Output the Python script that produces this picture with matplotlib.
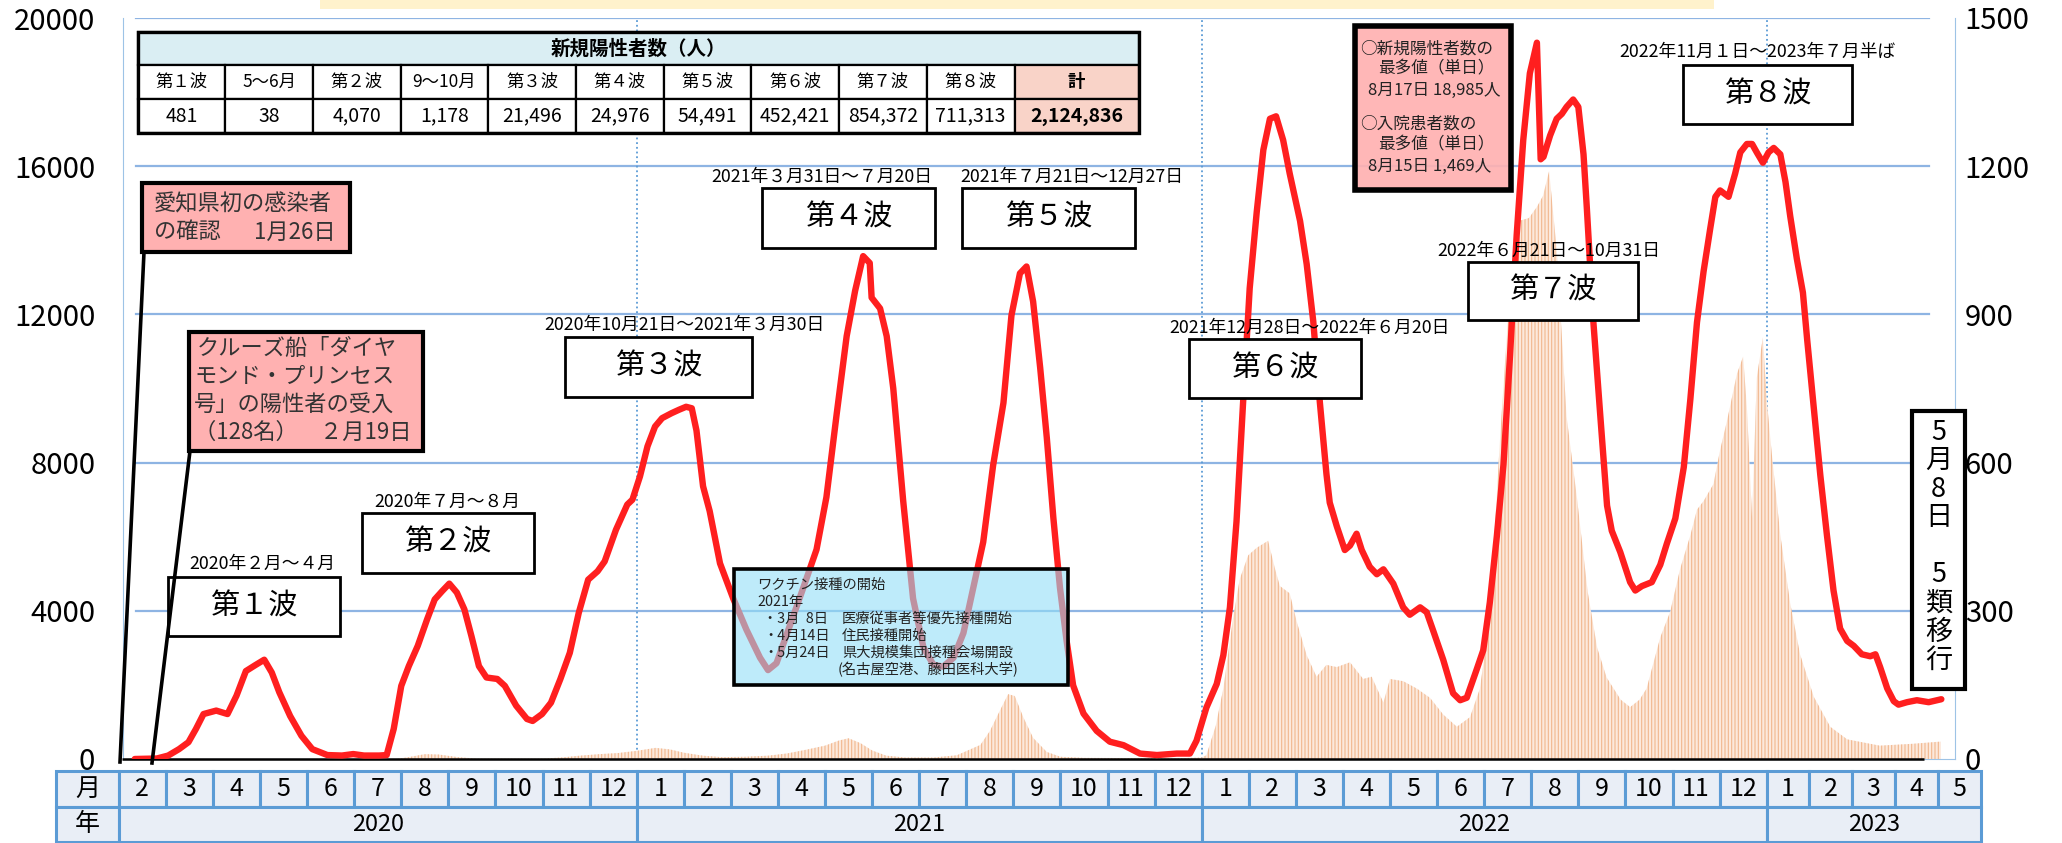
import matplotlib
matplotlib.use('Agg')
import matplotlib.pyplot as plt
from matplotlib.patches import Rectangle

plt.rcParams['font.family'] = ['Noto Sans CJK JP', 'DejaVu Sans']
plt.rcParams['hatch.linewidth'] = 0.8

# 横軸は月単位（2020年1月1日 = 0）
red_m = [1.34, 1.81, 2.05, 2.28, 2.48, 2.64, 2.80, 3.07, 3.31, 3.50, 3.70, 3.90, 4.09, 4.25, 4.41,
         4.64, 4.88, 5.11, 5.43, 5.74, 5.98, 6.21, 6.53, 6.69, 6.84, 7.00, 7.16, 7.35, 7.55, 7.71,
         7.87, 8.02, 8.18, 8.34, 8.49, 8.65, 8.81, 9.04, 9.20, 9.44, 9.67, 9.79, 9.99, 10.18, 10.38,
         10.58, 10.77, 10.97, 11.17, 11.32, 11.56, 11.80, 11.91, 12.07, 12.23, 12.39, 12.54, 12.74,
         12.90, 13.05, 13.17, 13.27, 13.41, 13.55, 13.77, 14.05, 14.33, 14.62, 14.79, 14.97, 15.25,
         15.54, 15.82, 16.03, 16.25, 16.46, 16.64, 16.81, 16.95, 16.99, 17.17, 17.31, 17.45, 17.66,
         17.87, 18.09, 18.30, 18.51, 18.73, 18.94, 19.15, 19.36, 19.57, 19.79, 19.96, 20.14, 20.28,
         20.42, 20.57, 20.71, 20.85, 20.99, 21.13, 21.27, 21.49, 21.77, 22.05, 22.34, 22.69, 23.05,
         23.47, 23.75, 23.89, 24.10, 24.32, 24.46, 24.60, 24.74, 24.88, 25.02, 25.17, 25.31, 25.45,
         25.58, 25.73, 25.87, 26.09, 26.23, 26.37, 26.51, 26.65, 26.72, 26.87, 27.04, 27.15, 27.29,
         27.40, 27.57, 27.72, 27.86, 28.07, 28.28, 28.42, 28.64, 28.78, 28.92, 29.13, 29.34, 29.49,
         29.63, 29.84, 29.98, 30.12, 30.27, 30.41, 30.55, 30.69, 30.83, 30.97, 31.12, 31.17, 31.20,
         31.26, 31.40, 31.54, 31.65, 31.75, 31.89, 32.00, 32.11, 32.18, 32.32, 32.46, 32.61, 32.71,
         32.89, 33.10, 33.21, 33.35, 33.56, 33.74, 33.88, 34.06, 34.24, 34.38, 34.52, 34.66, 34.80,
         34.91, 35.01, 35.19, 35.33, 35.44, 35.58, 35.69, 35.79, 35.92, 36.04, 36.15, 36.29, 36.40,
         36.50, 36.64, 36.77, 36.86, 37.00, 37.14, 37.28, 37.42, 37.56, 37.71, 37.85, 38.02, 38.20,
         38.31, 38.41, 38.56, 38.70, 38.80, 38.98, 39.19, 39.44, 39.71]
# 入院患者数（右軸）
red_h = [0, 1, 7, 20, 34, 61, 91, 98, 91, 128, 178, 190, 201, 175, 135,
         87, 47, 20, 8, 7, 10, 7, 7, 8, 61, 148, 188, 229, 283, 323,
         340, 355, 337, 303, 249, 188, 165, 162, 148, 108, 81, 77, 91, 114, 162,
         215, 296, 363, 380, 400, 464, 515, 525, 572, 633, 673, 690, 700,
         707, 713, 710, 665, 552, 502, 396, 325, 262, 205, 180, 194, 269,
         347, 424, 530, 700, 856, 948, 1018, 1004, 934, 912, 856, 750, 523,
         325, 226, 191, 187, 205, 255, 347, 439, 594, 721, 898, 983, 997,
         926, 792, 651, 488, 347, 240, 149, 92, 57, 35, 28, 11, 8,
         11, 11, 37, 104, 152, 210, 307, 481, 722, 953, 1108, 1233, 1296,
         1301, 1253, 1185, 1089, 1002, 886, 722, 577, 519, 471, 423, 432, 456,
         423, 389, 374, 384, 355, 307, 292, 307, 297, 259, 201, 133, 119,
         124, 181, 220, 317, 452, 596, 818, 1060, 1253, 1388, 1450, 1300, 1214,
         1219, 1262, 1296, 1306, 1320, 1335, 1320, 1224, 1116, 884, 703, 513, 462,
         419, 358, 341, 350, 358, 393, 436, 487, 591, 729, 884, 987, 1073,
         1138, 1151, 1138, 1185, 1228, 1245, 1245, 1228, 1207, 1228, 1237, 1224, 1168,
         1099, 1013, 944, 849, 711, 574, 453, 341, 264, 239, 229, 212, 208,
         212, 186, 143, 117, 110, 115, 119, 115, 121]

# 新規陽性者数（左軸）
bar_m = [1.3, 6.9, 7.2, 7.5, 7.8, 8.2, 8.6, 10.0, 10.4, 10.8, 11.2, 11.6, 12.0, 12.4, 12.7,
         13.0, 13.4, 13.8, 14.3, 14.8, 15.2, 15.6, 16.0, 16.3, 16.5, 16.75, 17.0, 17.3, 17.7,
         18.3, 18.8, 19.3, 19.5, 19.72, 19.89, 20.03, 20.21, 20.42, 20.71, 21.0, 21.5, 23.5,
         24.0, 24.1, 24.3, 24.46, 24.67, 24.81, 24.99, 25.17, 25.41, 25.56, 25.66, 25.87, 26.02,
         26.23, 26.44, 26.65, 26.87, 27.15, 27.43, 27.61, 27.86, 28.0, 28.28, 28.57, 28.85,
         29.13, 29.42, 29.70, 29.91, 30.12, 30.34, 30.51, 30.76, 30.95, 31.12, 31.25, 31.38,
         31.54, 31.75, 31.97, 32.04, 32.2, 32.4, 32.6, 32.9, 33.1, 33.3, 33.45, 33.74, 33.95,
         34.16, 34.38, 34.52, 34.66, 34.87, 35.01, 35.16, 35.37, 35.50, 35.58, 35.69, 35.79,
         35.92, 36.0, 36.11, 36.29, 36.50, 36.71, 37.0, 37.35, 37.71, 38.4, 39.1, 39.7]
bar_v = [0, 0, 60, 130, 120, 50, 10, 10, 40, 90, 130, 160, 220, 300, 260,
         170, 90, 50, 60, 90, 150, 250, 360, 500, 560, 430, 230, 90, 40,
         40, 100, 380, 750, 1320, 1750, 1700, 1130, 570, 190, 60, 30, 20,
         40, 100, 900, 1900, 3830, 4860, 5500, 5700, 5890, 5120, 4670, 4470, 3700,
         2800, 2220, 2540, 2480, 2610, 2160, 2220, 1520, 2160, 2100, 1900, 1650,
         1200, 870, 1130, 1900, 3830, 8720, 11960, 14530, 14600, 14900, 15200, 15870,
         13750, 9240, 7050, 6270, 4500, 3000, 2200, 1600, 1400, 1600, 1900, 3280, 3970,
         5120, 6040, 6730, 6960, 7420, 8330, 9140, 10400, 10860, 9480, 6500, 10290,
         11380, 9710, 8220, 6040, 4200, 2820, 1680, 870, 530, 360, 410, 470]

wave_names = ['第１波', '第２波', '第３波', '第４波', '第５波', '第６波', '第７波', '第８波']
wave_dates = ['2020年２月～４月', '2020年７月～８月', '2020年10月21日～2021年３月30日',
              '2021年３月31日～７月20日', '2021年７月21日～12月27日',
              '2021年12月28日～2022年６月20日', '2022年６月21日～10月31日',
              '2022年11月１日～2023年７月半ば']

table_heads = ['第１波', '5～6月', '第２波', '9～10月', '第３波', '第４波', '第５波',
               '第６波', '第７波', '第８波', '計']
table_vals = ['481', '38', '4,070', '1,178', '21,496', '24,976', '54,491',
              '452,421', '854,372', '711,313', '2,124,836']

month_nums = list(range(2, 13)) + list(range(1, 13)) + list(range(1, 13)) + list(range(1, 6))
year_names = ['2020', '2021', '2022', '2023']
year_months = [11, 12, 12, 5]

W, H = 2062, 843
fig = plt.figure(figsize=(W / 100, H / 100), dpi=100)

# 主グラフの配置（ピクセル）と月の範囲
X0, X1 = 1.09, 40.0
PX0, PX1, PY0, PY1 = 123, 1955, 759, 18
ppm = (PX1 - PX0) / (X1 - X0)


def px(m):
    return PX0 + (m - X0) * ppm


ax = fig.add_axes([PX0 / W, (H - PY0) / H, (PX1 - PX0) / W, (PY0 - PY1) / H])
ax.set_xlim(X0, X1)
ax.set_ylim(0, 20000)
ax.set_yticks(range(0, 20001, 4000))
ax.set_xticks([])
for v in range(4000, 20001, 4000):
    ax.axhline(v, xmin=(136 - PX0) / (PX1 - PX0), xmax=(1929 - PX0) / (PX1 - PX0),
               color='#8eb4e3', lw=1.6, zorder=0)
for m in [12, 24, 36]:
    ax.axvline(m, color='#5b9bd5', lw=1.3, ls=(0, (1, 1.6)), zorder=1)
ax.fill_between(bar_m, bar_v, 0, facecolor='#fce9dc', edgecolor='#f1b78e',
                hatch='|||||', lw=0, zorder=2)
ax.hlines(0, X0 + (122 - PX0) / ppm, X0 + (1924 - PX0) / ppm, color='black', lw=1.8,
          zorder=3, clip_on=False)
for s in ['top', 'right']:
    ax.spines[s].set_visible(False)
ax.spines['left'].set_color('#9dc3e6')
ax.spines['bottom'].set_color('#9dc3e6')
ax.tick_params(axis='y', length=0, pad=20, labelsize=21)

ax2 = ax.twinx()
ax2.set_ylim(0, 1500)
ax2.set_yticks(range(0, 1501, 300))
ax2.plot(red_m, red_h, color='#ff1f1f', lw=4.6, solid_joinstyle='round',
         solid_capstyle='round', zorder=5)
for s in ['top', 'left', 'bottom']:
    ax2.spines[s].set_visible(False)
ax2.spines['right'].set_color('#9dc3e6')
ax2.tick_params(axis='y', length=0, pad=7, labelsize=21)

# 下部の年月表（2023年の欄はやや狭い）
TL = -0.33
w23 = 0.909
cell_w = [1.0] * 35 + [w23] * 5
TR = 36 + 5 * w23
tb = fig.add_axes([px(TL) / W, 1 / H, (px(TR) - px(TL)) / W, 71 / H])
tb.set_xlim(TL, TR)
tb.set_ylim(2, 0)
tb.axis('off')
cell = dict(fc='#e9eef6', ec='#5b9bd5', lw=2.2, clip_on=False)
tb.add_patch(Rectangle((TL, 0), 1 - TL, 1, **cell))
tb.text((TL + 1) / 2, 0.5, '月', ha='center', va='center', fontsize=18)
tb.add_patch(Rectangle((TL, 1), 1 - TL, 1, **cell))
tb.text((TL + 1) / 2, 1.5, '年', ha='center', va='center', fontsize=18)
x = 1.0
for mn, w in zip(month_nums, cell_w):
    tb.add_patch(Rectangle((x, 0), w, 1, **cell))
    tb.text(x + w / 2, 0.5, str(mn), ha='center', va='center', fontsize=18)
    x += w
x = 1.0
k = 0
for y, n in zip(year_names, year_months):
    w = sum(cell_w[k:k + n])
    tb.add_patch(Rectangle((x, 1), w, 1, **cell))
    tb.text(x + w / 2, 1.5, y, ha='center', va='center', fontsize=17)
    x += w
    k += n

# 注記類（ピクセル座標）
ov = fig.add_axes([0, 0, 1, 1], zorder=10)
ov.set_xlim(0, W)
ov.set_ylim(H, 0)
ov.axis('off')

ov.add_patch(Rectangle((320, 0), 1394, 9, fc='#fff2cc', ec='none'))

# 上部の陽性者数表
col_w = [87.7] * 10 + [124]
tx = 137.5
ov.add_patch(Rectangle((tx, 32), sum(col_w), 33, fc='#daeef3', ec='black', lw=1.6))
ov.text(tx + sum(col_w) / 2, 49, '新規陽性者数（人）', ha='center', va='center',
        fontsize=14, fontweight='bold')
for i, (hd, vl) in enumerate(zip(table_heads, table_vals)):
    last = i == len(table_heads) - 1
    fc = '#f9d3c8' if last else 'white'
    fw = 'bold' if last else 'normal'
    ov.add_patch(Rectangle((tx, 65), col_w[i], 34, fc=fc, ec='black', lw=1.6))
    ov.add_patch(Rectangle((tx, 99), col_w[i], 34, fc=fc, ec='black', lw=1.6))
    ov.text(tx + col_w[i] / 2, 82, hd, ha='center', va='center', fontsize=12.5, fontweight=fw)
    ov.text(tx + col_w[i] / 2, 116, vl, ha='center', va='center', fontsize=14, fontweight=fw)
    tx += col_w[i]
ov.add_patch(Rectangle((137.5, 32), sum(col_w), 101, fc='none', ec='black', lw=2.4))

# 波のラベル
wave_box = [(168, 577, 340, 636), (362, 513, 534, 573), (565, 337, 752, 397),
            (762, 188, 935, 248), (962, 188, 1135, 248), (1189, 339, 1361, 398),
            (1468, 262, 1638, 320), (1683, 65, 1852, 124)]
date_pos = [(262, 564), (447, 502), (684, 325), (822, 177), (1072, 177), (1310, 328),
            (1549, 251), (1757, 52)]
for name, dt, (x0, y0, x1, y1), (dx, dy) in zip(wave_names, wave_dates, wave_box, date_pos):
    ov.add_patch(Rectangle((x0, y0), x1 - x0, y1 - y0, fc='white', ec='black', lw=2))
    ov.text((x0 + x1) / 2, (y0 + y1) / 2, name, ha='center', va='center', fontsize=21)
    ov.text(dx, dy, dt, ha='center', va='center', fontsize=12.8)

# 初感染者・クルーズ船
pink = '#ffb1b1'
ov.plot([144, 120], [252, 762], color='black', lw=2.6)
ov.plot([190, 152], [451, 763], color='black', lw=2.6)
ov.add_patch(Rectangle((142, 183), 208, 69, fc=pink, ec='black', lw=3))
ov.text(154, 204, '愛知県初の感染者', ha='left', va='center', fontsize=16, color='#333333')
ov.text(154, 232, 'の確認', ha='left', va='center', fontsize=16, color='#333333')
ov.text(254, 232, '1月26日', ha='left', va='center', fontsize=16, color='#333333')
ov.add_patch(Rectangle((189, 332), 234, 119, fc=pink, ec='black', lw=3))
cruise = ['クルーズ船「ダイヤ', 'モンド・プリンセス', '号」の陽性者の受入', '（128名）　２月19日']
for k, line in enumerate(cruise):
    ov.text(194 if k != 0 else 197, 348 + k * 28, line, ha='left', va='center', fontsize=16,
            color='#333333')

# 最多値
ov.add_patch(Rectangle((1355, 26), 156, 164, fc=pink, ec='none', alpha=0.92))
ov.add_patch(Rectangle((1355, 26), 156, 164, fc='none', ec='black', lw=4))
peak_lines = [(1360, 49, '○新規陽性者数の'), (1378, 69, '最多値（単日）'),
              (1368, 90, '8月17日 18,985人'), (1360, 124, '○入院患者数の'),
              (1378, 145, '最多値（単日）'), (1368, 166, '8月15日 1,469人')]
for x, y, t in peak_lines:
    ov.text(x, y, t, ha='left', va='center', fontsize=12, color='#222222')

# ワクチン接種
ov.add_patch(Rectangle((734, 569), 334, 116, fc='#93def7', ec='none', alpha=0.6))
ov.add_patch(Rectangle((734, 569), 334, 116, fc='none', ec='black', lw=2.6))
vac = [(757, 585, 'ワクチン接種の開始'), (757, 602, '2021年'),
       (763, 619, '・3月  8日'), (842, 619, '医療従事者等優先接種開始'),
       (763, 636, '・4月14日'), (842, 636, '住民接種開始'),
       (763, 653, '・5月24日'), (842, 653, '県大規模集団接種会場開設'),
       (838, 670, '(名古屋空港、藤田医科大学)')]
for x, y, t in vac:
    ov.text(x, y, t, ha='left', va='center', fontsize=10.3, color='#222222')

# 5類移行
ov.add_patch(Rectangle((1912, 411), 53, 278, fc='white', ec='black', lw=3))
for k, ch in enumerate('5月8日 5類移行'):
    if ch != ' ':
        ov.text(1938.5, 432 + k * 28.6, ch, ha='center', va='center', fontsize=19.5)

fig.savefig('out.png', dpi=100)
